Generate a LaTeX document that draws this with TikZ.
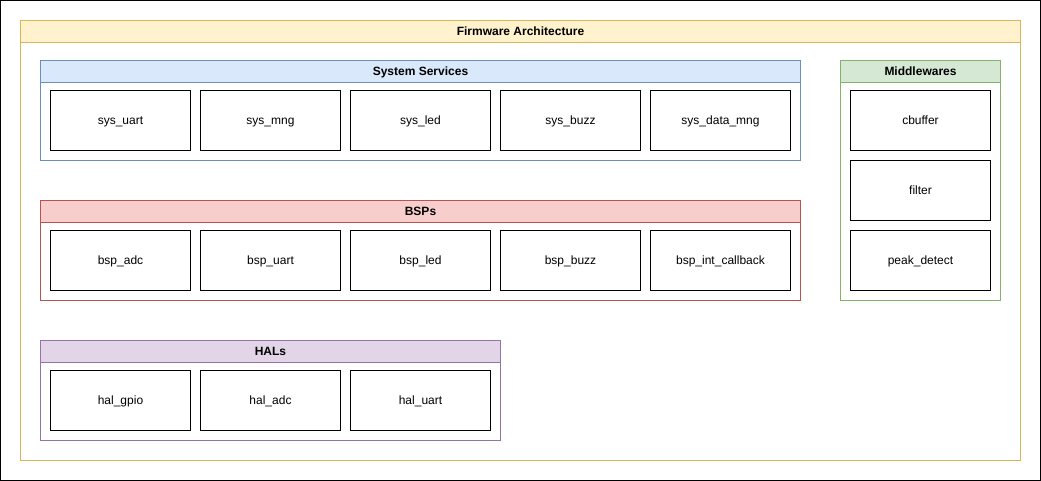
\documentclass[tikz,border=0pt]{standalone}
\usepackage{fontspec}
\setmainfont{Liberation Sans}
\definecolor{yfill}{HTML}{FFF2CC}\definecolor{ydraw}{HTML}{D6B656}
\definecolor{bfill}{HTML}{DAE8FC}\definecolor{bdraw}{HTML}{6C8EBF}
\definecolor{rfill}{HTML}{F8CECC}\definecolor{rdraw}{HTML}{B85450}
\definecolor{pfill}{HTML}{E1D5E7}\definecolor{pdraw}{HTML}{9673A6}
\definecolor{gfill}{HTML}{D5E8D4}\definecolor{gdraw}{HTML}{82B366}
\tikzset{
  mod/.style={draw=black, line width=1pt, fill=white, minimum width=140pt, minimum height=60pt, inner sep=0pt, text height=9.6pt, text depth=1.6pt, font=\fontsize{12}{14}\selectfont},
  hdr/.style={font=\bfseries\fontsize{12}{14}\selectfont, inner sep=0pt, text height=9.6pt, text depth=1.6pt},
}
\newcommand{\container}[7]{%
  \fill[#6] (#2,#3) rectangle (#4,{#3+22});
  \draw[line width=1pt, #7] (#2,#3) rectangle (#4,#5);
  \draw[line width=1pt, #7] (#2,{#3+22}) -- (#4,{#3+22});
}
\begin{document}
\begin{tikzpicture}[x=1pt,y=-1pt]
\useasboundingbox (0,0) rectangle (1041,481);
\draw[line width=1.3pt, black] (0.65,0.65) rectangle (1040.35,480.35);
\begin{scope}[shift={(0.5,0.5)}]
\container{fw}{20}{20}{1020}{460}{yfill}{ydraw}
\node[hdr] (fw) at (520,31) {Firmware Architecture};
\container{ss}{40}{60}{800}{160}{bfill}{bdraw}
\node[hdr] (ss) at (420,71) {System Services};
\container{bsp}{40}{200}{800}{300}{rfill}{rdraw}
\node[hdr] (bsp) at (420,211) {BSPs};
\container{hal}{40}{340}{500}{440}{pfill}{pdraw}
\node[hdr] (hal) at (270,351) {HALs};
\container{mw}{840}{60}{1000}{300}{gfill}{gdraw}
\node[hdr] (mw) at (920,71) {Middlewares};
% System services
\node[mod] (s1) at (120,120) {sys\_uart};
\node[mod] (s2) at (270,120) {sys\_mng};
\node[mod] (s3) at (420,120) {sys\_led};
\node[mod] (s4) at (570,120) {sys\_buzz};
\node[mod] (s5) at (720,120) {sys\_data\_mng};
% BSPs
\node[mod] (b1) at (120,260) {bsp\_adc};
\node[mod] (b2) at (270,260) {bsp\_uart};
\node[mod] (b3) at (420,260) {bsp\_led};
\node[mod] (b4) at (570,260) {bsp\_buzz};
\node[mod] (b5) at (720,260) {bsp\_int\_callback};
% HALs
\node[mod] (h1) at (120,400) {hal\_gpio};
\node[mod] (h2) at (270,400) {hal\_adc};
\node[mod] (h3) at (420,400) {hal\_uart};
% Middlewares
\node[mod] (m1) at (920,120) {cbuffer};
\node[mod] (m2) at (920,190) {filter};
\node[mod] (m3) at (920,260) {peak\_detect};
\end{scope}
\end{tikzpicture}
\end{document}
